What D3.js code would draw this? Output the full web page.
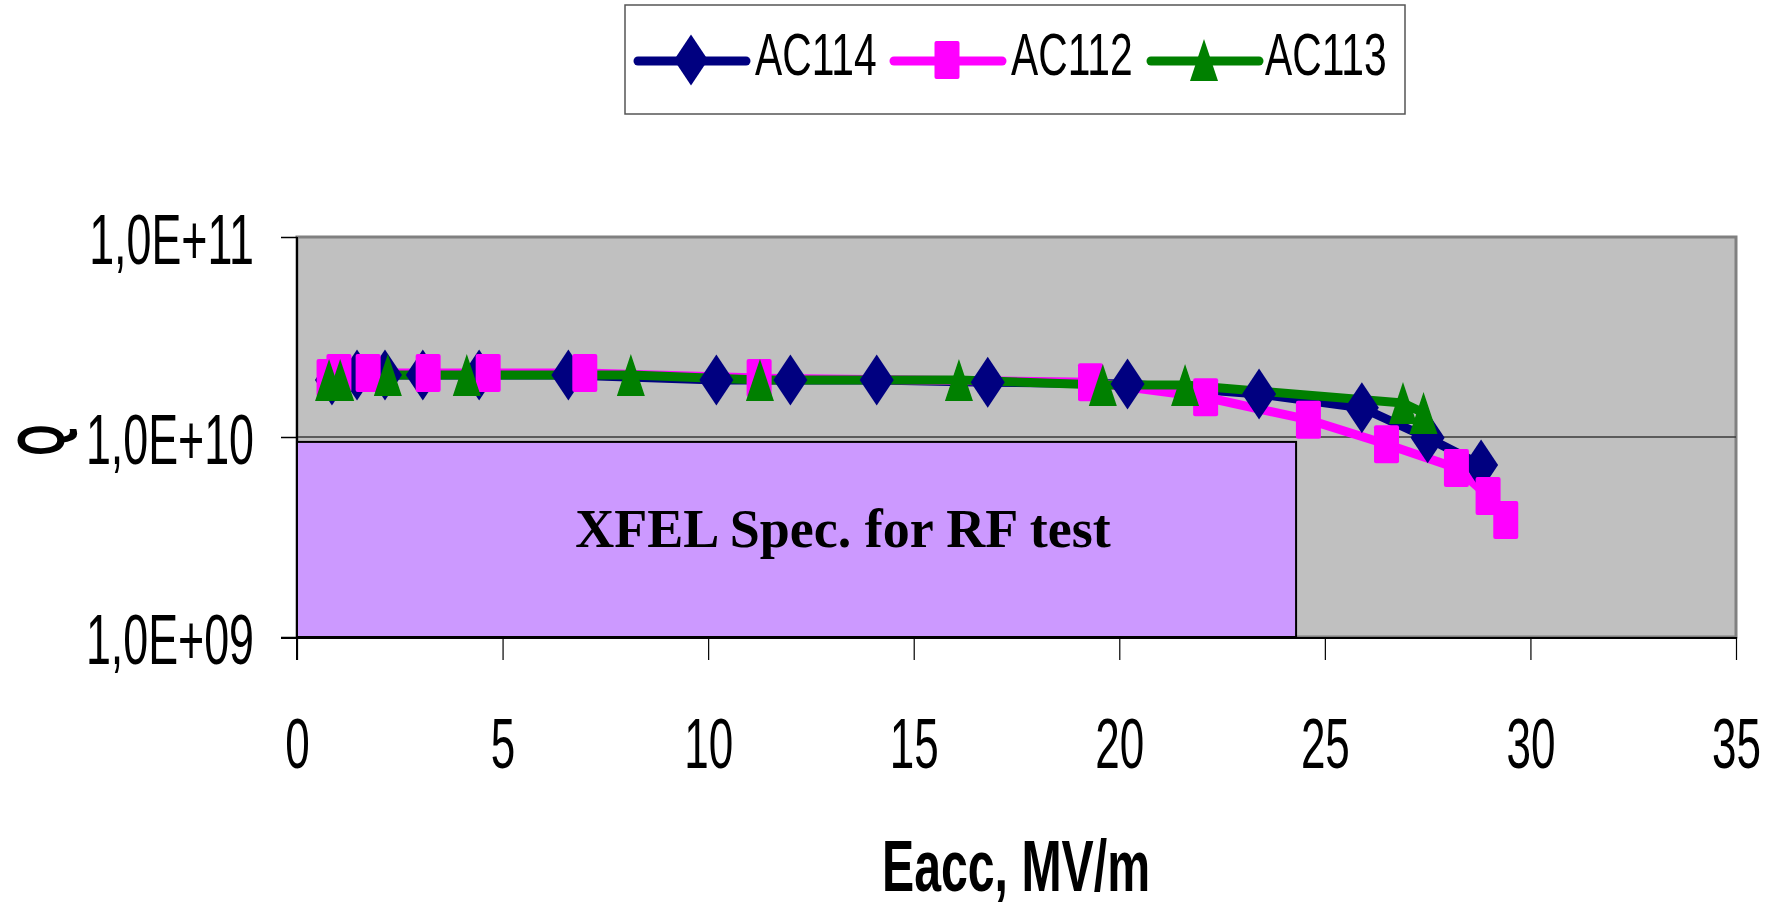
<!DOCTYPE html>
<html>
<head>
<meta charset="utf-8">
<script src="https://cdn.jsdelivr.net/npm/d3@7"></script>
<style>
  html, body { margin: 0; padding: 0; background: #ffffff; }
  svg { display: block; }
</style>
</head>
<body>
<svg id="chart" width="1782" height="906"></svg>
<script>
// Q(Eacc) vertical-test curves for three cavities
const seriesNames = ["AC114", "AC112", "AC113"];

const ac114Eacc = [0.85, 1.46, 2.14, 3.06, 4.43, 6.6, 10.2, 12.0, 14.1, 16.8, 20.2, 23.4, 25.9, 27.5, 28.8];
const ac114Q    = [1.93e10, 2.04e10, 2.04e10, 2.04e10, 2.04e10, 2.04e10, 1.93e10, 1.93e10, 1.93e10, 1.88e10, 1.84e10, 1.64e10, 1.40e10, 0.99e10, 0.724e10];

const ac112Eacc = [0.78, 1.02, 1.73, 3.19, 4.65, 7.0, 11.24, 19.3, 22.1, 24.6, 26.5, 28.2, 28.97, 29.4];
const ac112Q    = [1.97e10, 2.09e10, 2.09e10, 2.09e10, 2.09e10, 2.09e10, 1.97e10, 1.88e10, 1.58e10, 1.22e10, 0.92e10, 0.70e10, 0.507e10, 0.385e10];

const ac113Eacc = [0.78, 1.05, 2.21, 4.13, 8.12, 11.26, 16.1, 19.6, 21.6, 26.9, 27.4];
const ac113Q    = [1.93e10, 1.93e10, 2.04e10, 2.04e10, 2.04e10, 1.93e10, 1.93e10, 1.82e10, 1.82e10, 1.48e10, 1.32e10];

// XFEL acceptance region for the RF test
const specEacc = 24.3;
const specQ = 9.45e9;
const specLabel = "XFEL Spec. for RF test";

const xTicks = [0, 5, 10, 15, 20, 25, 30, 35];
const yTicks = [1e9, 1e10, 1e11];
const yTickLabels = ["1,0E+09", "1,0E+10", "1,0E+11"];

const xTitle = "Eacc, MV/m";
const yTitle = "Q";

const colors = ["#000080", "#FF00FF", "#008000"];
const markerKinds = ["diamond", "square", "triangle"];

const series = [
  { name: seriesNames[0], E: ac114Eacc, Q: ac114Q },
  { name: seriesNames[1], E: ac112Eacc, Q: ac112Q },
  { name: seriesNames[2], E: ac113Eacc, Q: ac113Q }
].map((s, i) => ({
  name: s.name,
  color: colors[i],
  kind: markerKinds[i],
  points: s.E.map((e, j) => ({ e: e, q: s.Q[j] }))
}));

// layout
const plot = { left: 297, right: 1736, top: 237, bottom: 637 };
const svg = d3.select("#chart");

const x = d3.scaleLinear().domain([0, 35]).range([plot.left, plot.right]);
const y = d3.scaleLog().domain([1e9, 1e11]).range([plot.bottom, plot.top]);

const narrow = "Liberation Sans, Arial, sans-serif";

// marker shapes
function markerPath(kind) {
  if (kind === "diamond") {
    const w = 34, h = 51;
    return `M0,${-h / 2}L${w / 2},0L0,${h / 2}L${-w / 2},0Z`;
  }
  if (kind === "triangle") {
    const w = 28, h = 42;
    return `M0,${-h / 2}L${w / 2},${h / 2}L${-w / 2},${h / 2}Z`;
  }
  const w = 25, h = 38, r = 2;
  return `M${-w / 2 + r},${-h / 2}H${w / 2 - r}Q${w / 2},${-h / 2} ${w / 2},${-h / 2 + r}` +
         `V${h / 2 - r}Q${w / 2},${h / 2} ${w / 2 - r},${h / 2}H${-w / 2 + r}` +
         `Q${-w / 2},${h / 2} ${-w / 2},${h / 2 - r}V${-h / 2 + r}Q${-w / 2},${-h / 2} ${-w / 2 + r},${-h / 2}Z`;
}

// plot area
svg.append("rect")
  .attr("x", plot.left).attr("y", plot.top)
  .attr("width", plot.right - plot.left).attr("height", plot.bottom - plot.top)
  .attr("fill", "#C0C0C0")
  .attr("stroke", "#808080").attr("stroke-width", 3);

// major gridline at 1E+10
svg.append("g").selectAll("line")
  .data([1e10])
  .join("line")
  .attr("x1", plot.left).attr("x2", plot.right)
  .attr("y1", d => y(d)).attr("y2", d => y(d))
  .attr("stroke", "#3a3a3a").attr("stroke-width", 1.5);

// spec region
svg.append("rect")
  .attr("x", x(0)).attr("y", y(specQ))
  .attr("width", x(specEacc) - x(0)).attr("height", y(1e9) - y(specQ))
  .attr("fill", "#CC99FF")
  .attr("stroke", "#000000").attr("stroke-width", 2);

svg.append("text")
  .attr("x", 843)
  .attr("y", 547)
  .attr("text-anchor", "middle")
  .attr("font-family", "Liberation Serif, Times New Roman, serif")
  .attr("font-weight", "bold")
  .attr("font-size", 54)
  .attr("fill", "#000")
  .text(specLabel);

// axes
const yAxis = d3.axisLeft(y)
  .tickValues(yTicks)
  .tickFormat((d, i) => yTickLabels[i])
  .tickSizeOuter(0)
  .tickSize(16);

const gy = svg.append("g")
  .attr("transform", `translate(${plot.left},0)`)
  .call(yAxis);
gy.select(".domain").remove();
gy.selectAll(".tick line").attr("stroke", "#000").attr("stroke-width", 1.5);
gy.selectAll(".tick text")
  .attr("font-family", narrow)
  .attr("font-size", 70)
  .attr("fill", "#000")
  .attr("x", null).attr("dy", null)
  .attr("text-anchor", "end")
  .attr("transform", "translate(-43,26) scale(0.64,1)");

const xAxis = d3.axisBottom(x)
  .tickValues(xTicks)
  .tickFormat(d3.format("d"))
  .tickSizeOuter(0)
  .tickSize(23);

const gx = svg.append("g")
  .attr("transform", `translate(0,${plot.bottom})`)
  .call(xAxis);
gx.select(".domain").remove();
gx.selectAll(".tick line").attr("stroke", "#000").attr("stroke-width", 1.2);
gx.selectAll(".tick text")
  .attr("font-family", narrow)
  .attr("font-size", 71)
  .attr("fill", "#000")
  .attr("y", null).attr("dy", null)
  .attr("text-anchor", "middle")
  .attr("transform", "translate(0,131) scale(0.62,1)");

// axis lines
svg.append("line")
  .attr("x1", plot.left).attr("x2", plot.left)
  .attr("y1", plot.top).attr("y2", plot.bottom + 23)
  .attr("stroke", "#000").attr("stroke-width", 2);
svg.append("line")
  .attr("x1", plot.left - 16).attr("x2", plot.right)
  .attr("y1", plot.bottom + 1).attr("y2", plot.bottom + 1)
  .attr("stroke", "#000").attr("stroke-width", 2);

// axis titles
svg.append("text")
  .attr("transform", "translate(1016,891) scale(0.67,1)")
  .attr("text-anchor", "middle")
  .attr("font-family", narrow)
  .attr("font-weight", "bold")
  .attr("font-size", 72)
  .attr("fill", "#000")
  .text(xTitle);

svg.append("text")
  .attr("transform", "translate(40,440) rotate(-90) scale(0.6,1)")
  .attr("text-anchor", "middle")
  .attr("dy", "0.36em")
  .attr("font-family", narrow)
  .attr("font-weight", "bold")
  .attr("font-size", 66)
  .attr("fill", "#000")
  .text(yTitle);

// series lines, then markers on top
const line = d3.line().x(d => x(d.e)).y(d => y(d.q));

svg.append("g").selectAll("path")
  .data(series)
  .join("path")
  .attr("d", s => line(s.points))
  .attr("fill", "none")
  .attr("stroke", s => s.color)
  .attr("stroke-width", 9)
  .attr("stroke-linejoin", "round")
  .attr("stroke-linecap", "round");

const markerLayer = svg.append("g");
series.forEach(s => {
  markerLayer.append("g").selectAll("path")
    .data(s.points)
    .join("path")
    .attr("transform", d => `translate(${x(d.e)},${y(d.q)})`)
    .attr("d", markerPath(s.kind))
    .attr("fill", s.color);
});

// legend
const legend = svg.append("g");
legend.append("rect")
  .attr("x", 625).attr("y", 5)
  .attr("width", 780).attr("height", 109)
  .attr("fill", "#fff")
  .attr("stroke", "#555").attr("stroke-width", 1.5);

const legendX = [638, 894, 1151];
const legendTextX = [755, 1011, 1265];
series.forEach((s, i) => {
  const g = legend.append("g");
  g.append("line")
    .attr("x1", legendX[i]).attr("x2", legendX[i] + 108)
    .attr("y1", 61).attr("y2", 61)
    .attr("stroke", s.color).attr("stroke-width", 9)
    .attr("stroke-linecap", "round");
  g.append("path")
    .attr("transform", `translate(${legendX[i] + 53},60)`)
    .attr("d", markerPath(s.kind))
    .attr("fill", s.color);
  g.append("text")
    .attr("transform", `translate(${legendTextX[i]},75) scale(0.68,1)`)
    .attr("font-family", narrow)
    .attr("font-size", 60)
    .attr("fill", "#000")
    .text(s.name);
});
</script>
</body>
</html>
